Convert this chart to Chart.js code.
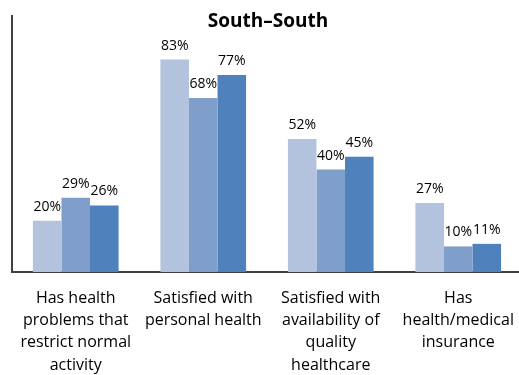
<!DOCTYPE html>
<html>
<head>
<meta charset="utf-8">
<script src="https://cdn.jsdelivr.net/npm/chart.js@4/dist/chart.umd.min.js"></script>
<style>
  html, body { margin: 0; padding: 0; background: #fff; overflow: hidden; }
  #wrap { width: 522px; height: 375px; }
</style>
</head>
<body>
<div id="wrap"><canvas id="c" width="522" height="375"></canvas></div>
<script>
const titleText = "South\u2013South";
const categories = [
  ["Has health", "problems that", "restrict normal", "activity"],
  ["Satisfied with", "personal health"],
  ["Satisfied with", "availability of", "quality", "healthcare"],
  ["Has", "health/medical", "insurance"]
];
const series1 = [20, 83, 52, 27];
const series2 = [29, 68, 40, 10];
const series3 = [26, 77, 45, 11];
const yMin = 0;
const yMax = 100;

const FONT = "'Open Sans', 'Liberation Sans', sans-serif";
Chart.defaults.font.family = FONT;

const titlePlugin = {
  id: 'customTitle',
  afterDraw(chart) {
    const ctx = chart.ctx;
    ctx.save();
    ctx.font = "bold 19px " + FONT;
    ctx.fillStyle = '#000';
    ctx.textAlign = 'center';
    ctx.textBaseline = 'alphabetic';
    ctx.fillText(titleText, 268, 27);
    ctx.restore();
  }
};

const valueLabels = {
  id: 'valueLabels',
  afterDatasetsDraw(chart) {
    const ctx = chart.ctx;
    ctx.save();
    ctx.font = "14px " + FONT;
    ctx.fillStyle = '#000';
    ctx.textAlign = 'center';
    ctx.textBaseline = 'alphabetic';
    chart.data.datasets.forEach((ds, i) => {
      const meta = chart.getDatasetMeta(i);
      meta.data.forEach((el, j) => {
        ctx.fillText(ds.data[j] + '%', el.x, el.y - 10);
      });
    });
    ctx.restore();
  }
};

new Chart(document.getElementById('c'), {
  type: 'bar',
  data: {
    labels: categories,
    datasets: [
      { data: series1, backgroundColor: '#B3C3DE' },
      { data: series2, backgroundColor: '#7F9EC9' },
      { data: series3, backgroundColor: '#4F81BD' }
    ]
  },
  options: {
    responsive: false,
    animation: false,
    devicePixelRatio: 1,
    layout: { padding: { left: 12, top: 16, right: 0, bottom: 0 } },
    datasets: { bar: { barPercentage: 1, categoryPercentage: 0.672, borderWidth: 0 } },
    plugins: { legend: { display: false }, tooltip: { enabled: false }, title: { display: false } },
    scales: {
      x: {
        grid: { display: false, drawTicks: false },
        border: { display: true, color: '#404040', width: 2 },
        ticks: { color: '#000', font: { size: 16, lineHeight: 1.395 }, padding: 15, maxRotation: 0, autoSkip: false },
        afterFit(scale) { scale.height = 103; scale.paddingLeft = 0; scale.paddingRight = 0; }
      },
      y: {
        min: yMin, max: yMax,
        grid: { display: false, drawTicks: false },
        border: { display: true, color: '#404040', width: 2 },
        ticks: { display: false },
        afterFit(scale) { scale.width = 0; scale.paddingTop = 0; scale.paddingBottom = 0; }
      }
    }
  },
  plugins: [titlePlugin, valueLabels]
});
</script>
</body>
</html>
